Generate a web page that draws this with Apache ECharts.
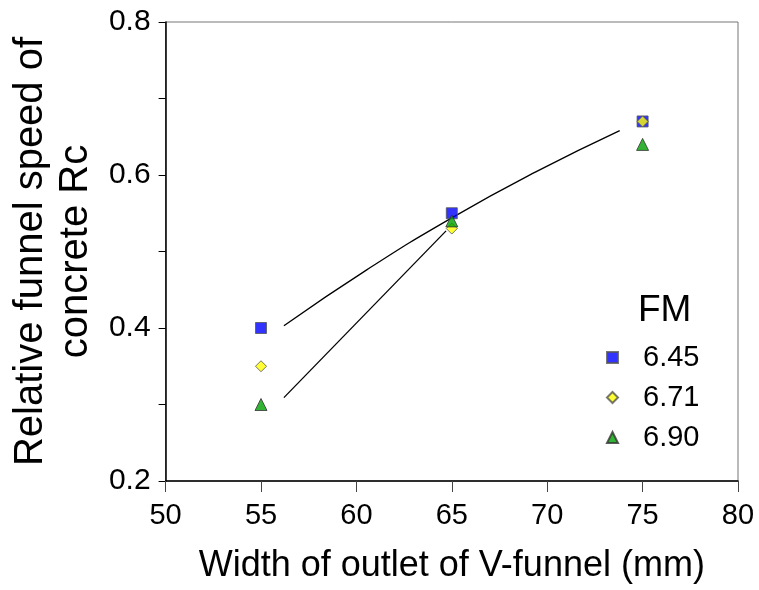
<!DOCTYPE html>
<html>
<head>
<meta charset="utf-8">
<script src="https://cdn.jsdelivr.net/npm/echarts@6/dist/echarts.min.js"></script>
<style>html,body{margin:0;padding:0;background:#fff;}#c{width:759px;height:590px;}</style>
</head>
<body>
<div id="c"></div>
<script>
var widths = [55, 65, 75];
var fm645 = [0.40, 0.55, 0.67];
var fm671 = [0.35, 0.53, 0.67];
var fm690 = [0.30, 0.54, 0.64];
var seriesNames = ['6.45', '6.71', '6.90'];
var legendTitle = 'FM';
var xTitle = 'Width of outlet of V-funnel (mm)';
var yTitle = 'Relative funnel speed of\nconcrete Rc';
// fitted trend curves
var fitUpperX = [56.2, 60.6, 65.0, 69.4, 73.8];
var fitUpperY = [0.403, 0.477, 0.544, 0.604, 0.658];
var fitLowerX = [56.2, 64.7];
var fitLowerY = [0.309, 0.527];

function pairs(xs, ys){ return xs.map(function(x,i){ return [x, ys[i]]; }); }

var font = 'Liberation Sans, Arial, sans-serif';
var chart = echarts.init(document.getElementById('c'), null, {renderer:'canvas'});
chart.setOption({
  animation:false,
  backgroundColor:'#fff',
  textStyle:{fontFamily:font},
  grid:{left:162, right:21, top:22, bottom:109, show:true, borderColor:'#777', borderWidth:1, backgroundColor:'transparent'},
  title:{text:legendTitle, left:638, top:292, padding:0, textStyle:{fontFamily:font, fontSize:37, fontWeight:'normal', color:'#000'}},
  legend:{
    orient:'vertical', left:606, top:343, padding:0, itemGap:11, itemWidth:11, itemHeight:11,
    textStyle:{fontFamily:font, fontSize:29, color:'#000', padding:[0,0,0,20]},
    data:seriesNames
  },
  xAxis:{
    type:'value', min:50, max:80, interval:5,
    name:xTitle, nameLocation:'middle', nameGap:67,
    nameTextStyle:{fontFamily:font, fontSize:36, color:'#000'},
    axisLine:{show:true, lineStyle:{color:'#000', width:1.5}},
    axisTick:{show:true, inside:false, length:11, lineStyle:{color:'#444', width:1}},
    axisLabel:{fontFamily:font, fontSize:29, color:'#000', margin:20},
    splitLine:{show:false}
  },
  yAxis:{
    type:'value', min:0.2, max:0.8, interval:0.2,
    name:yTitle, nameLocation:'middle', nameGap:64,
    nameTextStyle:{fontFamily:font, fontSize:40, color:'#000', lineHeight:45},
    axisLine:{show:true, lineStyle:{color:'#000', width:1.5}},
    axisTick:{show:true, inside:false, length:7, lineStyle:{color:'#000', width:1}},
    minorTick:{show:true, splitNumber:2, length:7, lineStyle:{color:'#000', width:1}},
    axisLabel:{fontFamily:font, fontSize:30, color:'#000', margin:15, formatter:function(v){return v.toFixed(1);}},
    splitLine:{show:false}
  },
  series:[
    {type:'line', data:pairs(fitUpperX, fitUpperY), smooth:true, symbol:'none', lineStyle:{color:'#000', width:1.3}, silent:true, z:1},
    {type:'line', data:pairs(fitLowerX, fitLowerY), symbol:'none', lineStyle:{color:'#000', width:1.3}, silent:true, z:1},
    {name:seriesNames[0], type:'scatter', data:pairs(widths, fm645), symbol:'rect', symbolSize:11,
      itemStyle:{color:'#0000ff', borderColor:'#555', borderWidth:1}, z:3},
    {name:seriesNames[1], type:'scatter', data:pairs(widths, fm671), symbol:'diamond', symbolSize:11,
      itemStyle:{color:'#ffff00', borderColor:'#555', borderWidth:1}, z:4},
    {name:seriesNames[2], type:'scatter', data:pairs(widths, fm690), symbol:'triangle', symbolSize:12,
      itemStyle:{color:'#00a000', borderColor:'#333', borderWidth:1}, z:5}
  ]
});
</script>
</body>
</html>
